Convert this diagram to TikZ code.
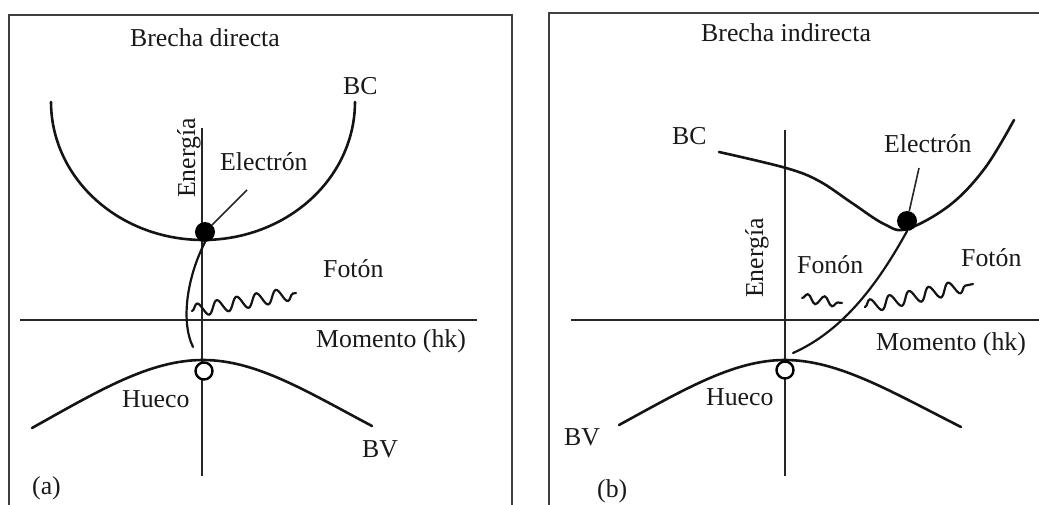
\documentclass[tikz,border=0pt]{standalone}
\usepackage{fontspec}
\setmainfont{Liberation Serif}
\usetikzlibrary{decorations.pathmorphing}
\tikzset{
  lbl/.style={font=\fontsize{25.8}{30}\selectfont, inner sep=0pt, text=black!90},
  framepath/.style={line width=1.7pt, draw=black!75},
  axis/.style={line width=1.7pt, draw=black!85},
  band/.style={line width=2.6pt, draw=black!92, line cap=round},
  trans/.style={line width=2.2pt, draw=black!92, line cap=round},
  pointer/.style={line width=1.6pt, draw=black!85},
  wave/.style={line width=2.2pt, draw=black!92, line cap=round, decorate,
    decoration={snake, amplitude=6.5pt, segment length=20pt}},
  swave/.style={line width=2.2pt, draw=black!92, line cap=round, decorate,
    decoration={snake, amplitude=4.5pt, segment length=17pt}},
  electron/.style={circle, fill=black, minimum size=20pt, inner sep=0pt},
  hole/.style={circle, draw=black, fill=white, line width=2.4pt, minimum size=17pt, inner sep=0pt},
}
\begin{document}
\begin{tikzpicture}[x=1pt, y=-1pt]
\useasboundingbox (0,0) rectangle (1039,505);

% ---------- (a) direct gap ----------
\draw[framepath] (9,506) -- (9,15) -- (512,15) -- (512,506);
\node[lbl, anchor=base] (ta) at (205,47) {Brecha directa};

% axes
\coordinate (ea-top) at (202,128);
\coordinate (ea-bot) at (202,476);
\coordinate (ma-l) at (20,320);
\coordinate (ma-r) at (477,320);
\draw[axis] (ea-top) -- (ea-bot);
\draw[axis] (ma-l) -- (ma-r);

% conduction band (half ellipse) and valence band
\draw[band] plot[domain=180:360, samples=80] ({203+152*cos(\x)}, {102-138*sin(\x)});
\draw[band] (32,428) .. controls (100,390) and (150,360) .. (203,360)
            .. controls (256,360) and (306,391) .. (372,426);

\node[electron] (ela) at (205,232) {};
\node[hole] (hoa) at (204,371) {};

% recombination path and emitted photon
\draw[trans] (ela.south) .. controls (188,275) and (180,320) .. (193,347);
\coordinate (pha-s) at (192,311);
\coordinate (pha-e) at (296,293);
\draw[wave] (pha-s) -- (pha-e);

\coordinate (pta) at (247,190);
\draw[pointer] (pta) -- (ela);

\node[lbl, anchor=base west] (bca) at (343,95) {BC};
\node[lbl, anchor=base west] (eleca) at (220,171) {Electrón};
\node[lbl, anchor=base west, rotate=90] (ena) at (195,198) {Energía};
\node[lbl, anchor=base west] (fota) at (323,277) {Fotón};
\node[lbl, anchor=base west] (moma) at (316,347) {Momento (hk)};
\node[lbl, anchor=base west] (hua) at (122,407) {Hueco};
\node[lbl, anchor=base west] (bva) at (362,457) {BV};
\node[lbl, anchor=base west] (pa) at (32,494) {(a)};

% ---------- (b) indirect gap ----------
\draw[framepath] (549,506) -- (549,13) -- (1045,13);
\node[lbl, anchor=base west] (tb) at (701,42) {Brecha indirecta};

\coordinate (eb-top) at (785,130);
\coordinate (eb-bot) at (785,476);
\coordinate (mb-l) at (571,320);
\coordinate (mb-r) at (1045,320);
\draw[axis] (eb-top) -- (eb-bot);
\draw[axis] (mb-l) -- (mb-r);

\draw[band] plot[smooth, tension=0.6] coordinates {(719,152) (786,168) (819,181) (852,203) (884,224) (907,229) (950,205) (985,168) (1014,120)};
\draw[band] (619,425) .. controls (685,389) and (734,360) .. (785,360)
            .. controls (838,360) and (890,391) .. (961,427);

\node[electron] (elb) at (907,221) {};
\node[hole] (hob) at (785,370) {};

\draw[trans] (elb.south) .. controls (880,280) and (845,330) .. (793,353);
\coordinate (phb-s) at (865,307);
\coordinate (phb-e) at (973,284);
\draw[wave] (phb-s) -- (phb-e);
\coordinate (fnb-s) at (802,298);
\coordinate (fnb-e) at (842,303);
\draw[swave] (fnb-s) -- (fnb-e);

\coordinate (ptb) at (919,168);
\draw[pointer] (ptb) -- (elb);

\node[lbl, anchor=base west] (bcb) at (672,145) {BC};
\node[lbl, anchor=base west] (elecb) at (884,153) {Electrón};
\node[lbl, anchor=base west, rotate=90] (enb) at (763,298) {Energía};
\node[lbl, anchor=base west] (fonb) at (797,273) {Fonón};
\node[lbl, anchor=base west] (fotb) at (961,266) {Fotón};
\node[lbl, anchor=base west] (momb) at (876,350) {Momento (hk)};
\node[lbl, anchor=base west] (hub) at (706,405) {Hueco};
\node[lbl, anchor=base west] (bvb) at (564,445) {BV};
\node[lbl, anchor=base west] (pb) at (597,497) {(b)};
\end{tikzpicture}
\end{document}
